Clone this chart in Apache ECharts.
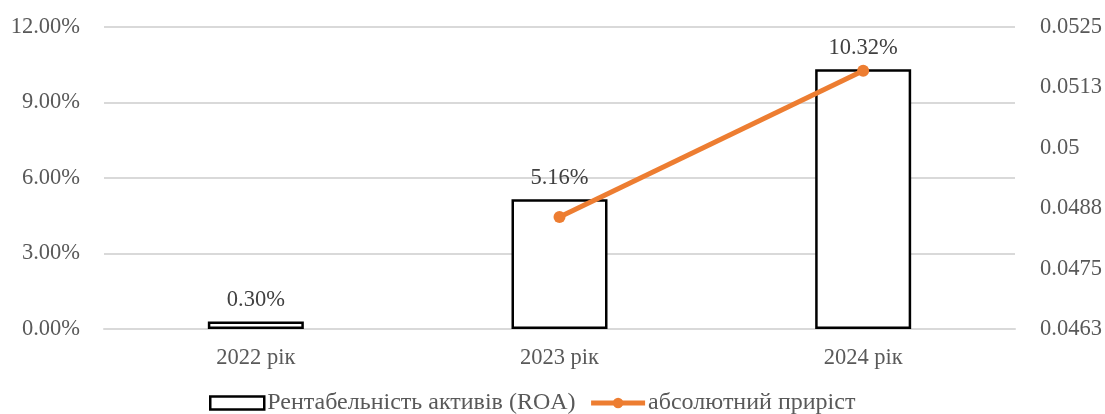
<!DOCTYPE html>
<html>
<head>
<meta charset="utf-8">
<script src="https://cdn.jsdelivr.net/npm/echarts@6/dist/echarts.min.js"></script>
<style>
  html, body { margin: 0; padding: 0; background: #fff; }
  #chart { width: 1105px; height: 414px; }
</style>
</head>
<body>
<div id="chart"></div>
<script>
// Years shown on the category axis
const categories = ['2022 рік', '2023 рік', '2024 рік'];
// Return on assets, percent
const roaValues = [0.30, 5.16, 10.32];
// Absolute growth of ROA (fraction), none for the first year
const growthValues = [null, 0.0486, 0.0516];
// Series names
const roaName = 'Рентабельність активів (ROA)';
const growthName = 'абсолютний приріст';

const fontFamily = '"Liberation Serif", "Times New Roman", serif';
const fontSize = 22.5;
const orange = '#ED7D31';

const chart = echarts.init(document.getElementById('chart'));
chart.setOption({
  animation: false,
  textStyle: { fontFamily: fontFamily },
  grid: { left: 104, right: 90, top: 27, bottom: 85, containLabel: false },
  legend: {
    top: 386,
    left: 204,
    itemWidth: 54,
    itemHeight: 13,
    itemGap: 13,
    textStyle: { fontFamily: fontFamily, fontSize: 24, color: '#595959', padding: [0, 0, 0, -2] },
    data: [
      { name: roaName, icon: 'rect', itemStyle: { color: '#fff', borderColor: '#000', borderWidth: 2.5 } },
      { name: growthName, lineStyle: { color: orange, width: 5 }, itemStyle: { color: orange } }
    ]
  },
  xAxis: {
    type: 'category',
    data: categories,
    axisTick: { show: false },
    axisLine: { show: true, lineStyle: { color: '#d9d9d9', width: 2 } },
    axisLabel: { fontSize: fontSize, color: '#595959', margin: 18, fontFamily: fontFamily }
  },
  yAxis: [
    {
      type: 'value',
      min: 0,
      max: 12,
      interval: 3,
      axisLine: { show: false },
      axisTick: { show: false },
      splitLine: { lineStyle: { color: '#d9d9d9', width: 2 } },
      axisLabel: {
        fontSize: fontSize, color: '#595959', margin: 24, fontFamily: fontFamily,
        formatter: v => v.toFixed(2) + '%'
      }
    },
    {
      type: 'value',
      min: 0.0463,
      max: 0.0525,
      interval: 0.00124,
      axisLine: { show: false },
      axisTick: { show: false },
      splitLine: { show: false },
      axisLabel: {
        fontSize: fontSize, color: '#595959', margin: 25, fontFamily: fontFamily,
        formatter: v => String(parseFloat(v.toFixed(4)))
      }
    }
  ],
  series: [
    {
      name: roaName,
      type: 'bar',
      yAxisIndex: 0,
      data: roaValues,
      barWidth: 96,
      itemStyle: { color: '#fff', borderColor: '#000', borderWidth: 2.5 },
      label: {
        show: true,
        position: 'top',
        distance: 10,
        fontSize: fontSize,
        color: '#404040',
        fontFamily: fontFamily,
        formatter: p => p.value.toFixed(2) + '%'
      },
      z: 2
    },
    {
      name: growthName,
      type: 'line',
      yAxisIndex: 1,
      data: growthValues,
      symbol: 'circle',
      symbolSize: 12,
      lineStyle: { color: orange, width: 5 },
      itemStyle: { color: orange },
      z: 3
    }
  ]
});
</script>
</body>
</html>
